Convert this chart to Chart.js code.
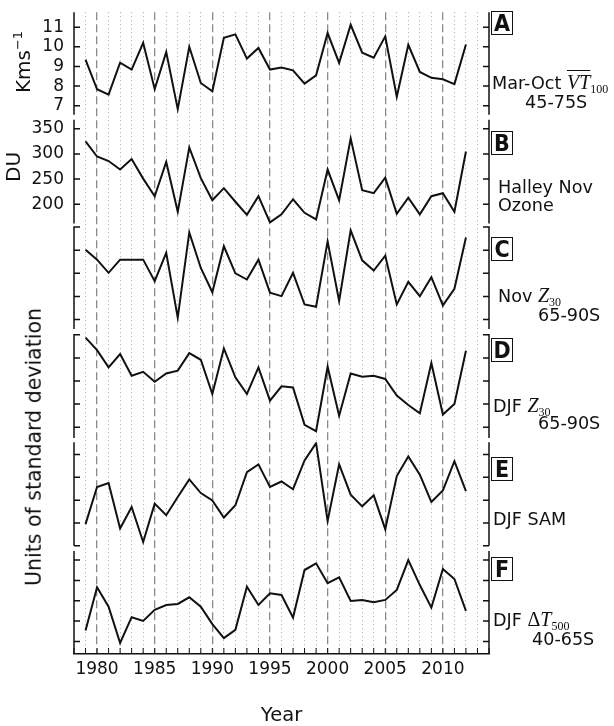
<!DOCTYPE html>
<html>
<head>
<meta charset="utf-8">
<script src="https://cdn.jsdelivr.net/npm/chart.js@4/dist/chart.umd.min.js"></script>
<style>
  html, body { margin: 0; padding: 0; background: #fff; }
  #wrap { position: relative; width: 614px; height: 726px; overflow: hidden; }
  #chart { position: absolute; left: 0; top: 0; }
  .lab { position: absolute; white-space: nowrap; font: 17.6px "DejaVu Sans", sans-serif; line-height: 1; color: #111; }
  .mi { font-family: "Liberation Serif", "DejaVu Serif", serif; font-style: italic; font-size: 20px; }
  .ov { text-decoration: overline; text-decoration-thickness: 1.3px; }
  .sub { font-family: "Liberation Serif", "DejaVu Serif", serif; font-size: 12px; position: relative; top: 4px; }
  .up { font-family: "Liberation Serif", "DejaVu Serif", serif; font-size: 20px; }
  .box { position: absolute; left: 491px; width: 20px; height: 22px; border: 1.5px solid #111;
         font: bold 23px "Liberation Sans Narrow", "DejaVu Sans", sans-serif; font-stretch: condensed;
         line-height: 23px; text-align: center; color: #111; }
  .rot { position: absolute; white-space: nowrap; font: 20px "DejaVu Sans", sans-serif; line-height: 1; color: #111;
         transform: translate(-50%, -50%) rotate(-90deg); }
  .sup { font-size: 13px; position: relative; top: -8px; }
</style>
</head>
<body>
<div id="wrap">
  <canvas id="chart" width="614" height="726"></canvas>

  <div class="rot" style="left:23px;top:62px">Kms<span class="sup">−1</span></div>
  <div class="rot" style="left:13px;top:167px">DU</div>
  <div class="rot" style="left:34px;top:447px;font-size:20.5px">Units of standard deviation</div>

  <div class="box" style="top:11px">A</div>
  <div class="box" style="top:131px">B</div>
  <div class="box" style="top:237px">C</div>
  <div class="box" style="top:338px">D</div>
  <div class="box" style="top:457px">E</div>
  <div class="box" style="top:557px">F</div>

  <div class="lab" style="left:492px;top:72px">Mar-Oct <span class="mi ov">VT</span><span class="sub">100</span></div>
  <div class="lab" style="left:525px;top:94px">45-75S</div>
  <div class="lab" style="left:498px;top:179px">Halley Nov</div>
  <div class="lab" style="left:498px;top:197px">Ozone</div>
  <div class="lab" style="left:498px;top:285px">Nov <span class="mi">Z</span><span class="sub">30</span></div>
  <div class="lab" style="left:538px;top:307px">65-90S</div>
  <div class="lab" style="left:493px;top:395px">DJF <span class="mi">Z</span><span class="sub">30</span></div>
  <div class="lab" style="left:538px;top:415px">65-90S</div>
  <div class="lab" style="left:493px;top:511px">DJF SAM</div>
  <div class="lab" style="left:493px;top:609px">DJF <span class="up">Δ</span><span class="mi">T</span><span class="sub">500</span></div>
  <div class="lab" style="left:532px;top:631px">40-65S</div>
</div>

<script>
// annual values, 1979-2012
const years = [1979, 1980, 1981, 1982, 1983, 1984, 1985, 1986, 1987, 1988, 1989, 1990,
               1991, 1992, 1993, 1994, 1995, 1996, 1997, 1998, 1999, 2000, 2001, 2002,
               2003, 2004, 2005, 2006, 2007, 2008, 2009, 2010, 2011, 2012];
const yearLabels = [1980, 1985, 1990, 1995, 2000, 2005, 2010];

// A: Mar-Oct VT100, 45-75S (K m/s)
const vtFlux = [9.35, 7.84, 7.57, 9.19, 8.84, 10.2, 7.85, 9.73, 6.83, 10.0, 8.16, 7.74,
                10.46, 10.63, 9.4, 9.94, 8.84, 8.95, 8.8, 8.13, 8.55, 10.7, 9.18, 11.12,
                9.7, 9.45, 10.53, 7.46, 10.1, 8.72, 8.42, 8.35, 8.1, 10.12];
// B: Halley November ozone (DU)
const halleyOzone = [325, 295, 286, 269, 290, 251, 216, 284, 185, 313, 252, 208,
                     232, 205, 179, 216, 164, 180, 210, 183, 170, 269, 208, 331,
                     228, 222, 253, 181, 213, 180, 216, 222, 185, 305];
// C-F: standardised anomalies
const novZ30 = [1.02, 0.59, 0.02, 0.59, 0.59, 0.59, -0.34, 0.88, -1.92, 1.77, 0.23, -0.82,
                1.17, 0.0, -0.27, 0.59, -0.84, -0.99, 0.02, -1.35, -1.45, 1.38, -1.2, 1.86,
                0.56, 0.12, 0.76, -1.35, -0.37, -0.99, -0.17, -1.39, -0.67, 1.55];
const djfZ30 = [1.88, 1.34, 0.59, 1.17, 0.23, 0.40, -0.03, 0.33, 0.45, 1.21, 0.92, -0.56,
                1.41, 0.16, -0.56, 0.59, -0.85, -0.23, -0.28, -1.9, -2.17, 0.62, -1.5, 0.33,
                0.19, 0.23, 0.09, -0.63, -1.04, -1.4, 0.78, -1.45, -0.99, 1.31];
const djfSam = [-1.05, 0.58, 0.75, -1.24, -0.30, -1.83, -0.15, -0.66, 0.14, 0.91, 0.31, -0.01,
                -0.76, -0.22, 1.23, 1.57, 0.58, 0.82, 0.48, 1.74, 2.5, -0.91, 1.57, 0.24,
                -0.27, 0.21, -1.27, 1.06, 1.92, 1.12, -0.08, 0.43, 1.71, 0.40];
const djfDt500 = [-1.46, 0.66, -0.29, -2.08, -0.81, -0.99, -0.45, -0.21, -0.16, 0.17, -0.29, -1.15,
                  -1.84, -1.43, 0.69, -0.21, 0.37, 0.28, -0.83, 1.51, 1.84, 0.86, 1.15, -0.01,
                  0.04, -0.08, 0.04, 0.53, 2.0, 0.77, -0.34, 1.56, 1.07, -0.5];

const INK = "#111";
const tickFont = { family: "DejaVu Sans", size: 17 };

function series(vals, axis) {
  return {
    data: years.map((yr, i) => ({ x: yr, y: vals[i] })),
    yAxisID: axis,
    borderColor: INK,
    borderWidth: 2,
    pointRadius: 0,
    tension: 0
  };
}

// one panel = one stacked y axis on the left
function panel(min, max, step, weight, showLabels) {
  return {
    type: "linear", position: "left", stack: "panels", stackWeight: weight,
    min: min, max: max,
    // ticks on whole multiples of the step only, never at the panel edges
    afterBuildTicks: s => {
      const t = [];
      for (let v = Math.ceil(min / step) * step; v <= max + 1e-9; v += step) t.push({ value: v });
      s.ticks = t;
    },
    ticks: { display: showLabels, autoSkip: false, padding: 2, font: tickFont, color: INK },
    grid: { display: false },
    border: { display: false },
    afterFit: s => { s.width = 74; }
  };
}

// empty strip between panels
function gap(weight) {
  return {
    type: "linear", position: "left", stack: "panels", stackWeight: weight,
    min: 0, max: 1, display: false
  };
}

const panelIds = ["yA", "yB", "yC", "yD", "yE", "yF"];

// spines and inward ticks on both sides of each panel
const frame = {
  id: "frame",
  afterDatasetsDraw(chart) {
    const { ctx, chartArea: { left, right, bottom } } = chart;
    ctx.save();
    ctx.strokeStyle = INK;
    ctx.lineWidth = 1.5;
    ctx.beginPath();
    panelIds.forEach(id => {
      const s = chart.scales[id];
      ctx.moveTo(left, s.top); ctx.lineTo(left, s.bottom);
      ctx.moveTo(right, s.top); ctx.lineTo(right, s.bottom);
      s.ticks.forEach(t => {
        const y = s.getPixelForValue(t.value);
        ctx.moveTo(left, y); ctx.lineTo(left + 6, y);
        ctx.moveTo(right - 6, y); ctx.lineTo(right, y);
      });
    });
    ctx.stroke();

    const xs = chart.scales.x;
    ctx.lineWidth = 1;
    ctx.beginPath();
    xs.ticks.forEach(t => {
      const px = xs.getPixelForValue(t.value);
      ctx.moveTo(px, bottom); ctx.lineTo(px, bottom - 6);
    });
    ctx.stroke();
    ctx.restore();
  }
};

new Chart(document.getElementById("chart"), {
  type: "line",
  data: {
    datasets: [
      series(vtFlux, "yA"),
      series(halleyOzone, "yB"),
      series(novZ30, "yC"),
      series(djfZ30, "yD"),
      series(djfSam, "yE"),
      series(djfDt500, "yF")
    ]
  },
  options: {
    responsive: false,
    animation: false,
    devicePixelRatio: 1,
    layout: { padding: { top: 10, right: 125, left: 0, bottom: 0 } },
    plugins: { legend: { display: false }, tooltip: { enabled: false } },
    scales: {
      x: {
        type: "linear", position: "bottom", min: 1978, max: 2014,
        afterBuildTicks: s => {
          const t = [];
          for (let v = 1978; v <= 2014; v++) t.push({ value: v });
          s.ticks = t;
        },
        ticks: {
          autoSkip: false, maxRotation: 0, padding: 5, font: tickFont, color: INK,
          callback: v => yearLabels.includes(v) ? String(v) : ""
        },
        grid: {
          drawTicks: false,
          color: c => (c.tick && (c.tick.value === 1978 || c.tick.value === 2014)) ? "rgba(0,0,0,0)"
                      : (c.tick && c.tick.value % 5 === 0 ? "#8a8a8a" : "#a8a8a8"),
          lineWidth: c => (c.tick && c.tick.value % 5 === 0) ? 1.3 : 1
        },
        border: {
          display: true, color: INK, width: 1.5,
          dash: c => c.tick ? (c.tick.value % 5 === 0 ? [8, 4] : [1, 3]) : []
        },
        title: { display: true, text: "Year", color: INK, font: { family: "DejaVu Sans", size: 19.5, lineHeight: 1 }, padding: 0 },
        afterFit: s => { s.height = 72; }
      },
      // stacked axes are laid out bottom-up, so the lowest panel comes first
      yF: panel(-2.62, 2.44, 1, 103.3, false),
      g5: gap(5.3),
      yE: panel(-2.0, 2.54, 1, 104, false),
      g4: gap(4.2),
      yD: panel(-2.47, 2.04, 1, 104.5, false),
      g3: gap(5),
      yC: panel(-2.41, 2.03, 1, 103, false),
      g2: gap(3),
      yB: panel(162, 368, 50, 104, true),
      g1: gap(5),
      yA: panel(6.54, 11.76, 1, 103, true)
    }
  },
  plugins: [frame]
});
</script>
</body>
</html>
